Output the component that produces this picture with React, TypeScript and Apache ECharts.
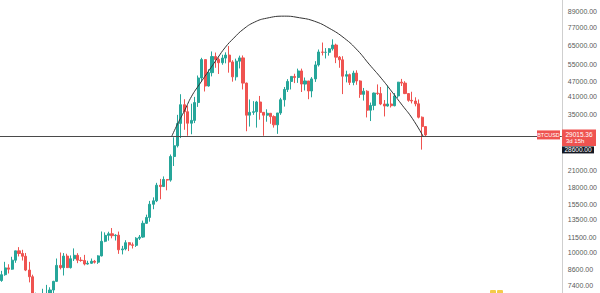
import { useEffect, useRef } from 'react';
import * as echarts from 'echarts';

// Weekly BTCUSD candles, first week starting Monday 2020-01-06
const FIRST_WEEK = Date.UTC(2020, 0, 6);
const WEEK_SLOTS = 163;

// [open, high, low, close]
const weeklyOHLC: [number, number, number, number][] = [
  [7760, 8470, 7670, 8180], [8180, 9190, 8100, 8700], [8700, 8990, 8270, 8600], [8600, 9620, 8550, 9330],
  [9330, 10160, 9110, 10150], [10150, 10500, 9650, 9910], [9910, 10250, 9300, 9670], [9670, 9960, 8450, 8530],
  [8530, 9190, 7630, 8030], [8030, 8180, 3850, 5360], [5360, 6950, 4450, 5830], [5830, 6930, 5680, 5880],
  [5880, 7200, 5860, 6780], [6780, 7460, 6770, 6900], [6900, 7300, 6480, 7120], [7120, 7740, 6800, 7700],
  [7700, 9470, 7660, 8900], [8900, 10000, 8580, 8720], [8720, 9950, 8120, 9680], [9680, 9890, 8800, 8720],
  [8720, 9740, 8650, 9450], [9450, 10380, 9260, 9750], [9750, 9940, 9080, 9330], [9330, 9590, 9200, 9300],
  [9300, 9790, 8900, 9010], [9010, 9280, 8960, 9070], [9070, 9470, 9020, 9240], [9240, 9350, 9050, 9160],
  [9160, 9760, 9020, 9700], [9700, 12100, 9650, 11070], [11070, 12000, 10980, 11680], [11680, 12070, 11130, 11850],
  [11850, 12480, 11370, 11650], [11650, 11800, 11150, 11700], [11700, 12090, 9880, 10250], [10250, 10620, 9830, 10330],
  [10330, 11180, 10200, 10930], [10930, 10990, 10130, 10720], [10720, 10950, 10370, 10670], [10670, 11490, 10520, 11380],
  [11380, 11720, 11200, 11500], [11500, 13350, 11420, 13030], [13030, 14090, 12950, 13740], [13740, 15960, 13220, 15480],
  [15480, 16480, 14800, 15970], [15970, 18800, 15790, 18400], [18400, 19480, 16200, 18180], [18180, 19920, 18100, 19380],
  [19380, 19410, 17570, 19270], [19270, 24300, 19000, 23860], [23860, 28400, 21900, 26300], [26300, 34800, 25900, 32200],
  [32200, 41950, 28200, 38150], [38150, 40100, 30400, 35800], [35800, 37850, 28800, 32260], [32260, 38500, 29200, 33100],
  [33100, 40950, 32300, 38900], [38900, 49700, 37400, 48600], [48600, 58350, 47000, 57400], [57400, 57500, 43000, 45200],
  [45200, 52600, 44950, 51000], [51000, 61800, 49300, 59000], [59000, 61200, 53300, 57500], [57500, 58500, 50400, 55800],
  [55800, 60000, 54800, 58200], [58200, 61300, 55500, 59800], [59800, 64900, 51000, 56200], [56200, 57100, 47000, 49100],
  [49100, 57900, 47500, 56600], [56600, 59500, 53000, 58300], [58300, 59600, 43800, 46400], [46400, 46600, 30000, 34700],
  [34700, 40000, 31300, 35600], [35600, 39400, 34800, 35800], [35800, 39500, 31000, 39100], [39100, 41300, 33300, 35600],
  [35600, 35700, 28800, 34700], [34700, 36600, 32700, 35300], [35300, 35300, 32100, 34250], [34250, 34650, 31000, 31800],
  [31800, 35400, 29300, 35400], [35400, 40600, 34800, 39900], [39900, 44800, 37500, 43800], [43800, 48100, 42800, 47100],
  [47100, 49400, 43800, 49300], [49300, 50500, 46400, 48800], [48800, 52900, 46500, 51800], [51800, 52900, 42800, 46000],
  [46000, 48800, 43400, 47300], [47300, 47300, 40100, 43200], [43200, 49000, 40800, 48200], [48200, 56600, 46900, 54700],
  [54700, 62900, 53900, 61500], [61500, 67000, 59600, 61300], [61300, 63700, 58000, 61300], [61300, 63700, 59500, 63300],
  [63300, 69000, 62300, 65500], [65500, 66300, 55600, 58700], [58700, 59300, 53300, 57300], [57300, 59200, 42000, 49400],
  [49400, 51900, 46700, 50100], [50100, 50600, 45600, 46700], [46700, 51900, 45500, 50800], [50800, 52100, 45700, 47300],
  [47300, 47600, 40600, 41900], [41900, 44400, 39600, 43100], [43100, 43500, 34000, 36300], [36300, 38900, 32900, 37900],
  [37900, 42600, 36300, 42400], [42400, 45850, 41700, 42200], [42200, 44800, 38000, 38400], [38400, 39800, 34300, 37700],
  [37700, 45400, 37500, 38400], [38400, 42600, 37200, 37800], [37800, 42400, 37600, 41300], [41300, 46900, 40500, 46800],
  [46800, 48200, 45200, 46400], [46400, 47200, 42000, 42200], [42200, 42400, 39200, 39700], [39700, 42900, 38600, 39450],
  [39450, 40800, 37600, 38470], [38470, 40000, 33700, 34060], [34060, 34300, 25400, 31300], [31300, 31400, 28650, 29015.36],
];

// Price scale labels (log scale)
const priceTicks = [89000, 77000, 65000, 55000, 47000, 41000, 35000, 21000, 18000, 15500, 13500, 11500, 10000, 8600, 7400];
const priceTop = 98500;
const priceBottom = 6930;

const symbolName = 'BTCUSD';
const lastPrice = 29015.36;
const countdown = '3d 15h';
const levelPrice = 28600;

// Arc drawing: week position and price of each point along the curve
const arcWeeks = [49.3, 51.0, 53.1, 55.1, 57.4, 60.0, 62.6, 64.9, 67.3, 70.1, 73.3, 76.8, 82.0, 86.4, 90.7, 95.0, 99.4, 103.2, 106.6, 110.1, 113.3, 116.2, 119.1, 122.3];
const arcPrices = [28600, 32000, 36300, 41200, 45950, 51700, 58150, 64240, 69700, 75600, 80550, 83500, 85100, 83880, 81300, 76300, 69700, 62500, 55070, 48520, 42740, 37980, 33740, 28600];

const UP = '#26a69a';
const DOWN = '#ef5350';
const FONT = '"Liberation Sans", Arial, sans-serif';
const AXIS_GAP = 37;

const weekLabels = Array.from({ length: WEEK_SLOTS }, (_, i) =>
  new Date(FIRST_WEEK + i * 7 * 86400000).toISOString().slice(0, 10)
);

export default function App() {
  const ref = useRef<HTMLDivElement>(null);

  useEffect(() => {
    if (!ref.current) return;
    const chart = echarts.init(ref.current, undefined, { renderer: 'svg' });
    const ln = Math.log;

    chart.setOption({
      animation: false,
      backgroundColor: '#ffffff',
      grid: { left: 0, right: AXIS_GAP, top: 0, bottom: 0 },
      xAxis: [
        { type: 'category', data: weekLabels, show: false, boundaryGap: true },
        { type: 'value', min: -0.5, max: WEEK_SLOTS - 0.5, show: false },
      ],
      yAxis: {
        type: 'value',
        position: 'right',
        min: ln(priceBottom),
        max: ln(priceTop),
        axisLine: { show: true, onZero: false, lineStyle: { color: '#cfcfcf', width: 1 } },
        axisTick: { show: false },
        splitLine: { show: false },
        axisLabel: {
          customValues: priceTicks.map(ln),
          formatter: (v: number) => Math.exp(v).toFixed(2),
          color: '#5a5a5a',
          fontSize: 7,
          margin: 6,
          fontFamily: FONT,
        },
      },
      series: [
        {
          type: 'candlestick',
          xAxisIndex: 0,
          yAxisIndex: 0,
          barWidth: 2.6,
          data: weeklyOHLC.map(([o, h, l, c]) => [ln(o), ln(c), ln(l), ln(h)]),
          itemStyle: { color: UP, color0: DOWN, borderColor: UP, borderColor0: DOWN, borderWidth: 1 },
          markLine: {
            silent: true,
            symbol: 'none',
            label: { show: false },
            lineStyle: { color: '#4a4a4a', type: 'solid', width: 1 },
            data: [{ yAxis: ln(levelPrice) }],
          },
        },
        {
          type: 'line',
          xAxisIndex: 1,
          yAxisIndex: 0,
          data: arcWeeks.map((w, i) => [w, ln(arcPrices[i])]),
          smooth: true,
          showSymbol: false,
          lineStyle: { color: '#333333', width: 1 },
          z: 5,
        },
      ],
    });

    const axisX = chart.getWidth() - AXIS_GAP;
    const bottom = chart.getHeight();
    const yLast = chart.convertToPixel({ yAxisIndex: 0 }, ln(lastPrice)) as number;

    chart.setOption({
      graphic: [
        { type: 'rect', shape: { x: axisX - 26, y: yLast - 4.5, width: 23, height: 9 }, style: { fill: DOWN }, z: 100 },
        { type: 'text', x: axisX - 14.5, y: yLast, style: { text: symbolName, fill: '#fff', fontSize: 5.5, fontFamily: FONT, align: 'center', verticalAlign: 'middle' }, z: 101 },
        { type: 'rect', shape: { x: axisX - 1, y: yLast - 5.5, width: 34, height: 16.5 }, style: { fill: DOWN }, z: 100 },
        { type: 'text', x: axisX + 16, y: yLast, style: { text: lastPrice.toFixed(2), fill: '#fff', fontSize: 6.5, fontFamily: FONT, align: 'center', verticalAlign: 'middle' }, z: 101 },
        { type: 'text', x: axisX + 3, y: yLast + 6.5, style: { text: countdown, fill: '#fff', fontSize: 6, fontFamily: FONT, verticalAlign: 'middle' }, z: 101 },
        { type: 'rect', shape: { x: axisX - 1, y: yLast + 11.5, width: 32, height: 7 }, style: { fill: '#131722' }, z: 100 },
        { type: 'text', x: axisX + 15, y: yLast + 15, style: { text: levelPrice.toFixed(2), fill: '#fff', fontSize: 6.5, fontFamily: FONT, align: 'center', verticalAlign: 'middle' }, z: 101 },
        // site mark, cut by the bottom edge
        { type: 'rect', shape: { x: 490, y: bottom - 3, width: 6, height: 6, r: 1 }, style: { fill: '#f0b90b', opacity: 0.75 }, z: 90 },
        { type: 'rect', shape: { x: 497, y: bottom - 3, width: 6, height: 6, r: 1 }, style: { fill: '#f0b90b', opacity: 0.75 }, z: 90 },
      ],
    });

    return () => chart.dispose();
  }, []);

  return (
    <div
      ref={ref}
      style={{ position: 'absolute', left: 0, top: 0, width: 600, height: 293, background: '#fff' }}
    />
  );
}
